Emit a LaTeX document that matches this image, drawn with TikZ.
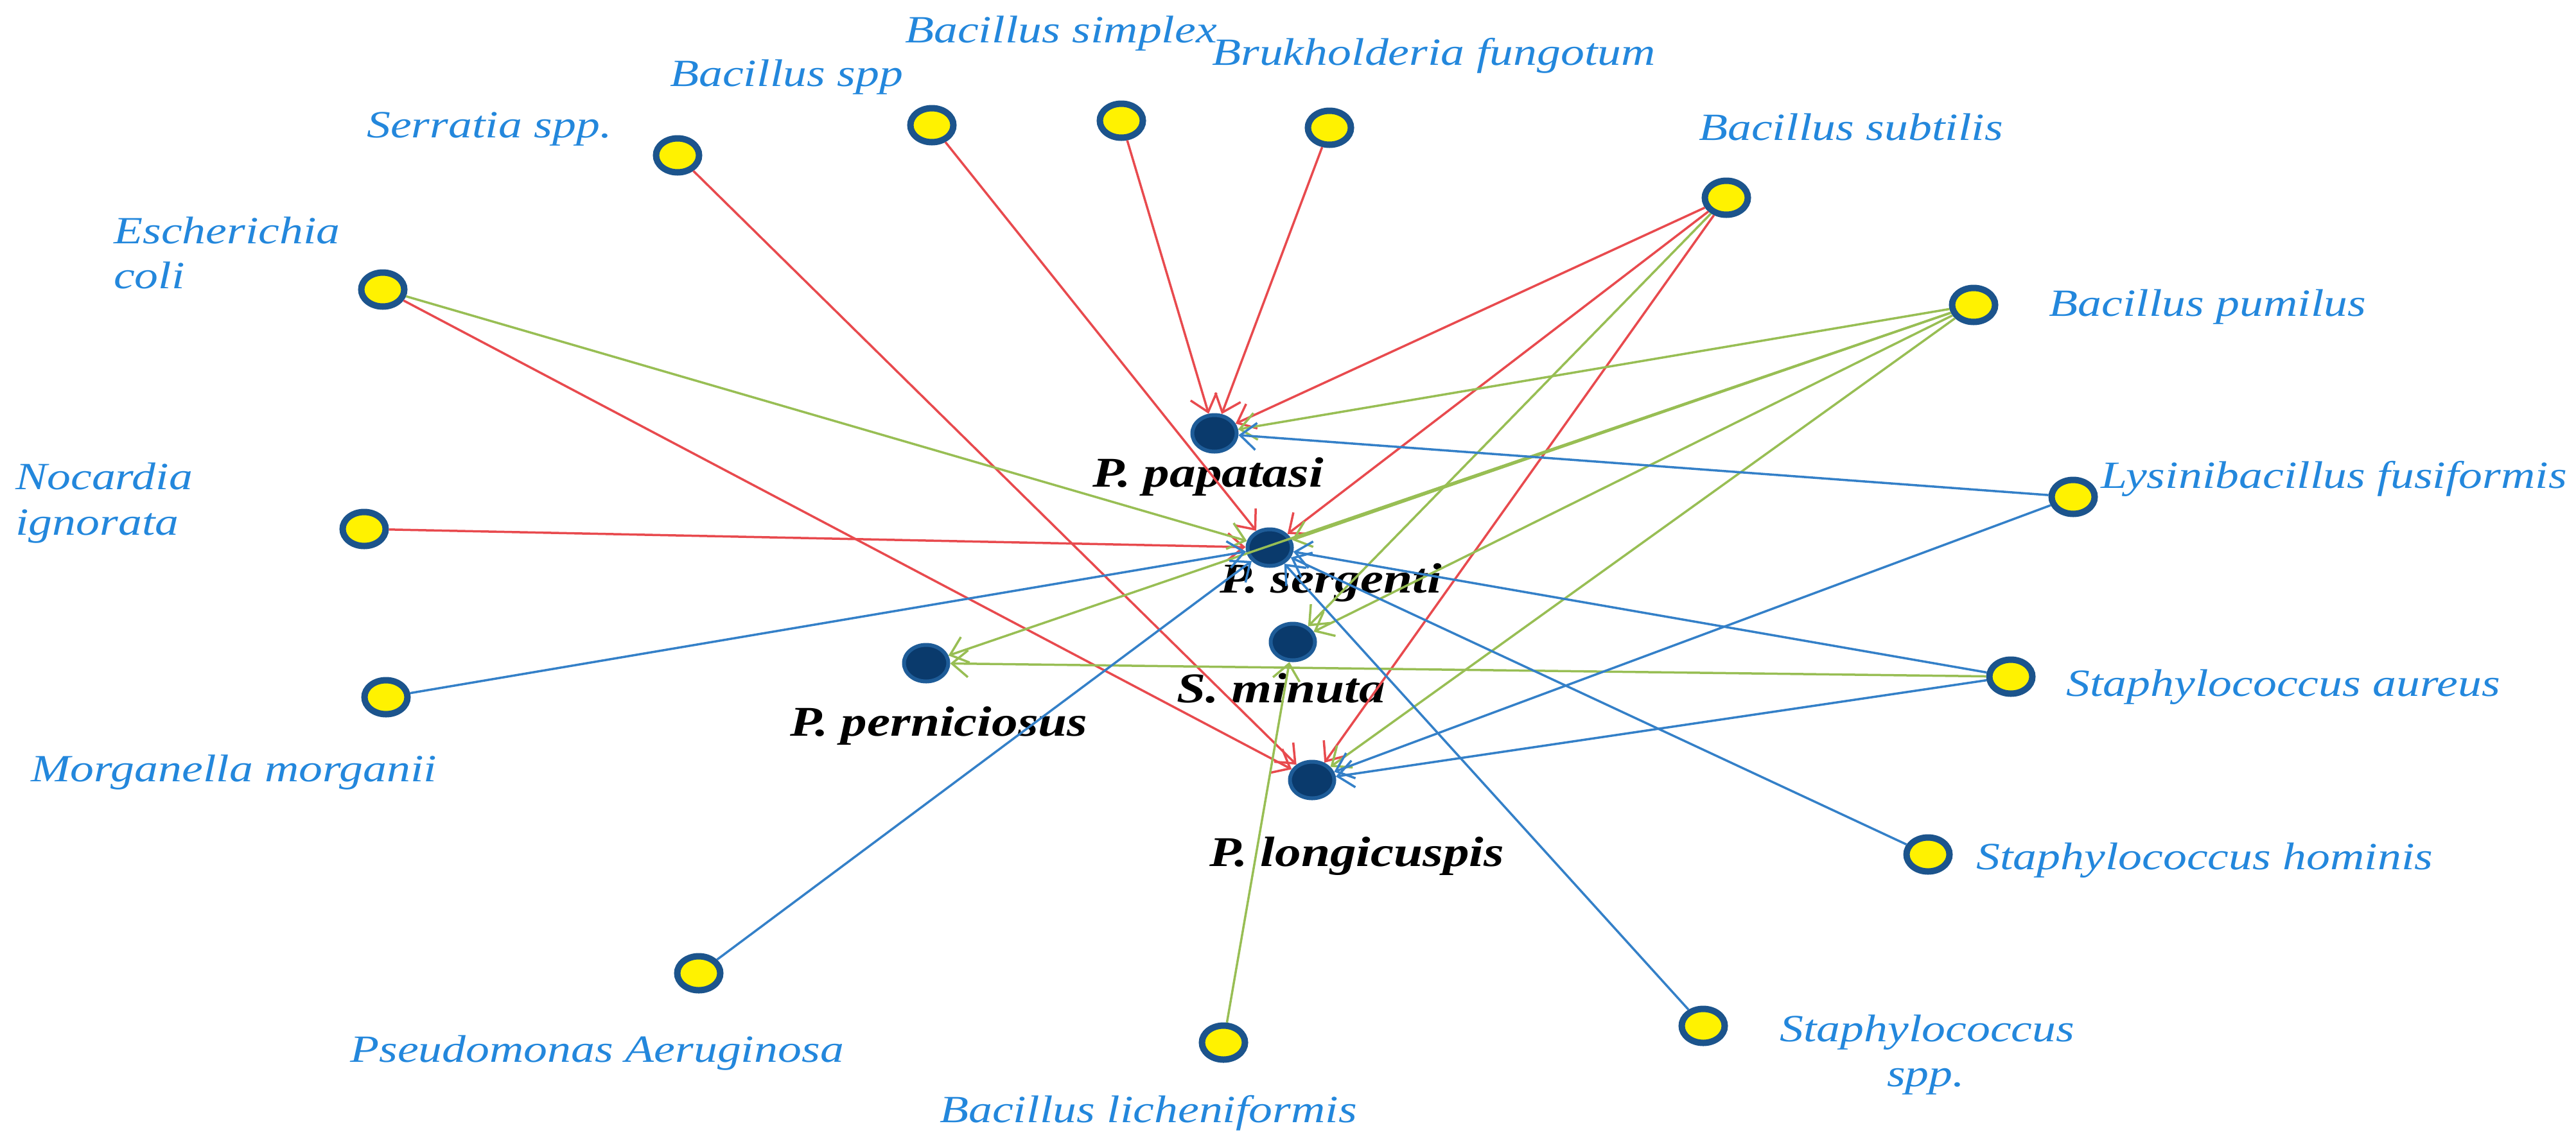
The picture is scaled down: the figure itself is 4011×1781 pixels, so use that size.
\documentclass[tikz,border=0pt]{standalone}
\usepackage{fontspec}
\setmainfont{Liberation Serif}[FakeStretch=1.23]
\usetikzlibrary{shapes.geometric,arrows.meta}
\definecolor{redE}{RGB}{232,74,78}
\definecolor{greenE}{RGB}{152,190,84}
\definecolor{blueE}{RGB}{52,128,200}
\definecolor{labBlue}{RGB}{35,135,220}
\definecolor{ringBlue}{RGB}{28,84,140}
\definecolor{navyFill}{RGB}{10,58,108}
\definecolor{navyRing}{RGB}{30,92,152}
\tikzset{
  srcnode/.style={ellipse, draw=ringBlue, fill=yellow, line width=10pt,
    minimum width=67pt, minimum height=53pt, inner sep=0pt},
  tgtnode/.style={ellipse, draw=navyRing, fill=navyFill, line width=6pt,
    minimum width=69pt, minimum height=57pt, inner sep=0pt},
  bluelabel/.style={anchor=base west, inner sep=0pt, text=labBlue,
    font=\fontsize{60}{70}\selectfont\itshape},
  blacklabel/.style={anchor=base west, inner sep=0pt, text=black,
    font=\fontsize{66}{78}\selectfont\bfseries\itshape},
  linkarrow/.style={line width=3.5pt, -{Straight Barb[length=25pt,width=42pt]}},
  redarrow/.style={linkarrow, draw=redE},
  greenarrow/.style={linkarrow, draw=greenE},
  bluearrow/.style={linkarrow, draw=blueE}
}
\begin{document}
\begin{tikzpicture}[x=1pt,y=-1pt]
\useasboundingbox (0,0) rectangle (4011,1781);
% target nodes
\node[tgtnode] (papatasi) at (1891,675) {};
\node[tgtnode] (sergenti) at (1977,853) {};
\node[tgtnode] (minuta) at (2013,1000) {};
\node[tgtnode] (pernic) at (1442,1033) {};
\node[tgtnode] (longi) at (2043,1215) {};
% source nodes
\node[srcnode] (serratia) at (1055,242) {};
\node[srcnode] (bspp) at (1451,195) {};
\node[srcnode] (bsimplex) at (1746,188) {};
\node[srcnode] (brukh) at (2070,199) {};
\node[srcnode] (subtilis) at (2688,308) {};
\node[srcnode] (ecoli) at (596,451) {};
\node[srcnode] (pumilus) at (3073,475) {};
\node[srcnode] (lysini) at (3228,774) {};
\node[srcnode] (nocardia) at (567,824) {};
\node[srcnode] (morgan) at (601,1086) {};
\node[srcnode] (aureus) at (3131,1054) {};
\node[srcnode] (hominis) at (3002,1331) {};
\node[srcnode] (pseudo) at (1088,1516) {};
\node[srcnode] (lichen) at (1905,1624) {};
\node[srcnode] (staphspp) at (2652,1598) {};
% blue labels
\node[bluelabel] (lserratia) at (571,214) {Serratia spp.};
\node[bluelabel] (lbspp) at (1043,134) {Bacillus spp};
\node[bluelabel] (lbsimplex) at (1409,66) {Bacillus simplex};
\node[bluelabel] (lbrukh) at (1887,101) {Brukholderia fungotum};
\node[bluelabel] (lsubtilis) at (2645,218) {Bacillus subtilis};
\node[bluelabel] (lecoliA) at (177,379) {Escherichia};
\node[bluelabel] (lecoliB) at (177,449) {coli};
\node[bluelabel] (lpumilus) at (3190,492) {Bacillus pumilus};
\node[bluelabel] (llysini) at (3271,760) {Lysinibacillus fusiformis};
\node[bluelabel] (lnocA) at (24,762) {Nocardia};
\node[bluelabel] (lnocB) at (24,833) {ignorata};
\node[bluelabel] (lmorgan) at (48,1217) {Morganella morganii};
\node[bluelabel] (laureus) at (3217,1084) {Staphylococcus aureus};
\node[bluelabel] (lhominis) at (3077,1354) {Staphylococcus hominis};
\node[bluelabel] (lstaphA) at (2771,1622) {Staphylococcus};
\node[bluelabel] (lstaphB) at (2938,1692) {spp.};
\node[bluelabel] (lpseudo) at (545,1654) {Pseudomonas Aeruginosa};
\node[bluelabel] (llichen) at (1463,1748) {Bacillus licheniformis};
% black labels
\node[blacklabel] (lpapatasi) at (1701,758) {P. papatasi};
\node[blacklabel] (lsergenti) at (1899,923) {P. sergenti};
\node[blacklabel] (lminuta) at (1832,1094) {S. minuta};
\node[blacklabel] (lpernic) at (1230,1146) {P. perniciosus};
\node[blacklabel] (llongi) at (1883,1349) {P. longicuspis};
% red links
\draw[redarrow] (serratia) -- (longi);
\draw[redarrow] (bspp) -- (sergenti);
\draw[redarrow] (bsimplex) -- (papatasi);
\draw[redarrow] (brukh) -- (papatasi);
\draw[redarrow] (subtilis) -- (papatasi);
\draw[redarrow] (subtilis) -- (sergenti);
\draw[redarrow] (subtilis) -- (longi);
\draw[redarrow] (ecoli) -- (longi);
\draw[redarrow] (nocardia) -- (sergenti);
% green links
\draw[greenarrow] (ecoli) -- (sergenti);
\draw[greenarrow] (subtilis) -- (minuta);
\draw[greenarrow] (pumilus) -- (papatasi);
\draw[greenarrow] (pumilus) -- (sergenti);
\draw[greenarrow] (pumilus) -- (pernic);
\draw[greenarrow] (pumilus) -- (minuta);
\draw[greenarrow] (pumilus) -- (longi);
\draw[greenarrow] (aureus) -- (pernic);
\draw[greenarrow] (lichen) -- (minuta);
% blue links
\draw[bluearrow] (lysini) -- (papatasi);
\draw[bluearrow] (lysini) -- (longi);
\draw[bluearrow] (morgan) -- (sergenti);
\draw[bluearrow] (aureus) -- (sergenti);
\draw[bluearrow] (aureus) -- (longi);
\draw[bluearrow] (hominis) -- (sergenti);
\draw[bluearrow] (pseudo) -- (sergenti);
\draw[bluearrow] (staphspp) -- (sergenti);
\end{tikzpicture}
\end{document}
